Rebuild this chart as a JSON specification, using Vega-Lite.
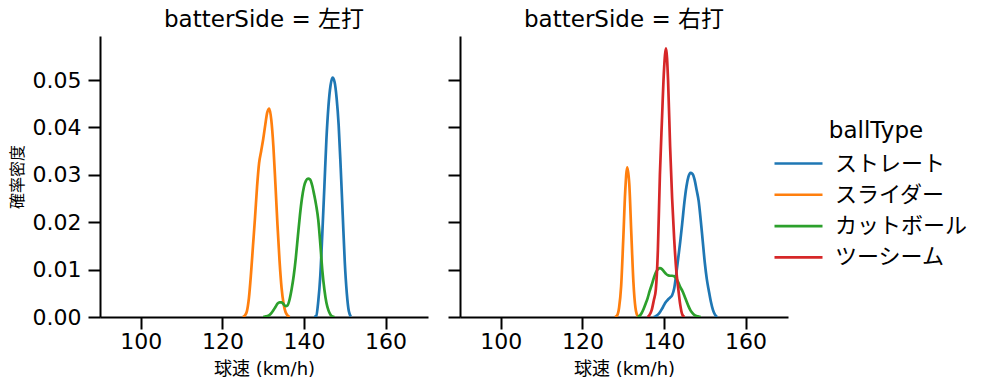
{
  "$schema": "https://vega.github.io/schema/vega-lite/v6.json",
  "padding": {"left": 9, "top": 9, "right": 0, "bottom": 0},
  "datasets": {
    "kde": [
      {"batterSide": "左打", "ballType": "ストレート", "speed": 142.5, "density": 0},
      {"batterSide": "左打", "ballType": "ストレート", "speed": 143.0, "density": 0.0002},
      {"batterSide": "左打", "ballType": "ストレート", "speed": 143.5, "density": 0.0033},
      {"batterSide": "左打", "ballType": "ストレート", "speed": 144.0, "density": 0.0087},
      {"batterSide": "左打", "ballType": "ストレート", "speed": 144.5, "density": 0.0177},
      {"batterSide": "左打", "ballType": "ストレート", "speed": 145.0, "density": 0.0275},
      {"batterSide": "左打", "ballType": "ストレート", "speed": 145.5, "density": 0.0375},
      {"batterSide": "左打", "ballType": "ストレート", "speed": 146.0, "density": 0.0445},
      {"batterSide": "左打", "ballType": "ストレート", "speed": 146.5, "density": 0.0488},
      {"batterSide": "左打", "ballType": "ストレート", "speed": 147.0, "density": 0.0505},
      {"batterSide": "左打", "ballType": "ストレート", "speed": 147.5, "density": 0.0496},
      {"batterSide": "左打", "ballType": "ストレート", "speed": 148.0, "density": 0.0462},
      {"batterSide": "左打", "ballType": "ストレート", "speed": 148.5, "density": 0.0405},
      {"batterSide": "左打", "ballType": "ストレート", "speed": 149.0, "density": 0.0315},
      {"batterSide": "左打", "ballType": "ストレート", "speed": 149.5, "density": 0.0215},
      {"batterSide": "左打", "ballType": "ストレート", "speed": 150.0, "density": 0.0116},
      {"batterSide": "左打", "ballType": "ストレート", "speed": 150.5, "density": 0.005},
      {"batterSide": "左打", "ballType": "ストレート", "speed": 151.0, "density": 0.0012},
      {"batterSide": "左打", "ballType": "ストレート", "speed": 151.5, "density": 0.0001},

      {"batterSide": "左打", "ballType": "スライダー", "speed": 125.0, "density": 0},
      {"batterSide": "左打", "ballType": "スライダー", "speed": 125.5, "density": 0.0003},
      {"batterSide": "左打", "ballType": "スライダー", "speed": 126.0, "density": 0.0012},
      {"batterSide": "左打", "ballType": "スライダー", "speed": 126.5, "density": 0.004},
      {"batterSide": "左打", "ballType": "スライダー", "speed": 127.0, "density": 0.009},
      {"batterSide": "左打", "ballType": "スライダー", "speed": 127.5, "density": 0.015},
      {"batterSide": "左打", "ballType": "スライダー", "speed": 128.0, "density": 0.021},
      {"batterSide": "左打", "ballType": "スライダー", "speed": 128.5, "density": 0.0275},
      {"batterSide": "左打", "ballType": "スライダー", "speed": 129.0, "density": 0.0325},
      {"batterSide": "左打", "ballType": "スライダー", "speed": 129.5, "density": 0.035},
      {"batterSide": "左打", "ballType": "スライダー", "speed": 130.0, "density": 0.0375},
      {"batterSide": "左打", "ballType": "スライダー", "speed": 130.5, "density": 0.0405},
      {"batterSide": "左打", "ballType": "スライダー", "speed": 131.0, "density": 0.0432},
      {"batterSide": "左打", "ballType": "スライダー", "speed": 131.5, "density": 0.044},
      {"batterSide": "左打", "ballType": "スライダー", "speed": 132.0, "density": 0.0415},
      {"batterSide": "左打", "ballType": "スライダー", "speed": 132.5, "density": 0.036},
      {"batterSide": "左打", "ballType": "スライダー", "speed": 133.0, "density": 0.028},
      {"batterSide": "左打", "ballType": "スライダー", "speed": 133.5, "density": 0.0195},
      {"batterSide": "左打", "ballType": "スライダー", "speed": 134.0, "density": 0.012},
      {"batterSide": "左打", "ballType": "スライダー", "speed": 134.5, "density": 0.0062},
      {"batterSide": "左打", "ballType": "スライダー", "speed": 135.0, "density": 0.0028},
      {"batterSide": "左打", "ballType": "スライダー", "speed": 135.5, "density": 0.001},
      {"batterSide": "左打", "ballType": "スライダー", "speed": 136.0, "density": 0.0003},
      {"batterSide": "左打", "ballType": "スライダー", "speed": 136.5, "density": 0},

      {"batterSide": "左打", "ballType": "カットボール", "speed": 130.0, "density": 0},
      {"batterSide": "左打", "ballType": "カットボール", "speed": 130.5, "density": 0.0001},
      {"batterSide": "左打", "ballType": "カットボール", "speed": 131.0, "density": 0.0002},
      {"batterSide": "左打", "ballType": "カットボール", "speed": 131.5, "density": 0.0004},
      {"batterSide": "左打", "ballType": "カットボール", "speed": 132.0, "density": 0.0008},
      {"batterSide": "左打", "ballType": "カットボール", "speed": 132.5, "density": 0.0014},
      {"batterSide": "左打", "ballType": "カットボール", "speed": 133.0, "density": 0.0021},
      {"batterSide": "左打", "ballType": "カットボール", "speed": 133.5, "density": 0.0028},
      {"batterSide": "左打", "ballType": "カットボール", "speed": 134.0, "density": 0.0031},
      {"batterSide": "左打", "ballType": "カットボール", "speed": 134.5, "density": 0.0031},
      {"batterSide": "左打", "ballType": "カットボール", "speed": 135.0, "density": 0.0027},
      {"batterSide": "左打", "ballType": "カットボール", "speed": 135.5, "density": 0.0023},
      {"batterSide": "左打", "ballType": "カットボール", "speed": 136.0, "density": 0.0025},
      {"batterSide": "左打", "ballType": "カットボール", "speed": 136.5, "density": 0.0038},
      {"batterSide": "左打", "ballType": "カットボール", "speed": 137.0, "density": 0.006},
      {"batterSide": "左打", "ballType": "カットボール", "speed": 137.5, "density": 0.0088},
      {"batterSide": "左打", "ballType": "カットボール", "speed": 138.0, "density": 0.0125},
      {"batterSide": "左打", "ballType": "カットボール", "speed": 138.5, "density": 0.017},
      {"batterSide": "左打", "ballType": "カットボール", "speed": 139.0, "density": 0.0214},
      {"batterSide": "左打", "ballType": "カットボール", "speed": 139.5, "density": 0.025},
      {"batterSide": "左打", "ballType": "カットボール", "speed": 140.0, "density": 0.0275},
      {"batterSide": "左打", "ballType": "カットボール", "speed": 140.5, "density": 0.0288},
      {"batterSide": "左打", "ballType": "カットボール", "speed": 141.0, "density": 0.0292},
      {"batterSide": "左打", "ballType": "カットボール", "speed": 141.5, "density": 0.029},
      {"batterSide": "左打", "ballType": "カットボール", "speed": 142.0, "density": 0.0278},
      {"batterSide": "左打", "ballType": "カットボール", "speed": 142.5, "density": 0.0258},
      {"batterSide": "左打", "ballType": "カットボール", "speed": 143.0, "density": 0.0235},
      {"batterSide": "左打", "ballType": "カットボール", "speed": 143.5, "density": 0.0205},
      {"batterSide": "左打", "ballType": "カットボール", "speed": 144.0, "density": 0.0155},
      {"batterSide": "左打", "ballType": "カットボール", "speed": 144.5, "density": 0.0098},
      {"batterSide": "左打", "ballType": "カットボール", "speed": 145.0, "density": 0.0058},
      {"batterSide": "左打", "ballType": "カットボール", "speed": 145.5, "density": 0.003},
      {"batterSide": "左打", "ballType": "カットボール", "speed": 146.0, "density": 0.0014},
      {"batterSide": "左打", "ballType": "カットボール", "speed": 146.5, "density": 0.0005},
      {"batterSide": "左打", "ballType": "カットボール", "speed": 147.0, "density": 0.0001},
      {"batterSide": "左打", "ballType": "カットボール", "speed": 147.5, "density": 0},

      {"batterSide": "右打", "ballType": "ストレート", "speed": 137.5, "density": 0},
      {"batterSide": "右打", "ballType": "ストレート", "speed": 138.0, "density": 0.0002},
      {"batterSide": "右打", "ballType": "ストレート", "speed": 138.5, "density": 0.0005},
      {"batterSide": "右打", "ballType": "ストレート", "speed": 139.0, "density": 0.001},
      {"batterSide": "右打", "ballType": "ストレート", "speed": 139.5, "density": 0.0017},
      {"batterSide": "右打", "ballType": "ストレート", "speed": 140.0, "density": 0.0025},
      {"batterSide": "右打", "ballType": "ストレート", "speed": 140.5, "density": 0.0032},
      {"batterSide": "右打", "ballType": "ストレート", "speed": 141.0, "density": 0.0037},
      {"batterSide": "右打", "ballType": "ストレート", "speed": 141.5, "density": 0.0041},
      {"batterSide": "右打", "ballType": "ストレート", "speed": 142.0, "density": 0.0046},
      {"batterSide": "右打", "ballType": "ストレート", "speed": 142.5, "density": 0.006},
      {"batterSide": "右打", "ballType": "ストレート", "speed": 143.0, "density": 0.009},
      {"batterSide": "右打", "ballType": "ストレート", "speed": 143.5, "density": 0.0125},
      {"batterSide": "右打", "ballType": "ストレート", "speed": 144.0, "density": 0.016},
      {"batterSide": "右打", "ballType": "ストレート", "speed": 144.5, "density": 0.02},
      {"batterSide": "右打", "ballType": "ストレート", "speed": 145.0, "density": 0.0242},
      {"batterSide": "右打", "ballType": "ストレート", "speed": 145.5, "density": 0.0275},
      {"batterSide": "右打", "ballType": "ストレート", "speed": 146.0, "density": 0.0296},
      {"batterSide": "右打", "ballType": "ストレート", "speed": 146.5, "density": 0.0304},
      {"batterSide": "右打", "ballType": "ストレート", "speed": 147.0, "density": 0.0302},
      {"batterSide": "右打", "ballType": "ストレート", "speed": 147.5, "density": 0.029},
      {"batterSide": "右打", "ballType": "ストレート", "speed": 148.0, "density": 0.0268},
      {"batterSide": "右打", "ballType": "ストレート", "speed": 148.5, "density": 0.0245},
      {"batterSide": "右打", "ballType": "ストレート", "speed": 149.0, "density": 0.0205},
      {"batterSide": "右打", "ballType": "ストレート", "speed": 149.5, "density": 0.016},
      {"batterSide": "右打", "ballType": "ストレート", "speed": 150.0, "density": 0.0115},
      {"batterSide": "右打", "ballType": "ストレート", "speed": 150.5, "density": 0.008},
      {"batterSide": "右打", "ballType": "ストレート", "speed": 151.0, "density": 0.0055},
      {"batterSide": "右打", "ballType": "ストレート", "speed": 151.5, "density": 0.0032},
      {"batterSide": "右打", "ballType": "ストレート", "speed": 152.0, "density": 0.0015},
      {"batterSide": "右打", "ballType": "ストレート", "speed": 152.5, "density": 0.0005},
      {"batterSide": "右打", "ballType": "ストレート", "speed": 153.0, "density": 0},

      {"batterSide": "右打", "ballType": "スライダー", "speed": 128.0, "density": 0},
      {"batterSide": "右打", "ballType": "スライダー", "speed": 128.5, "density": 0.0003},
      {"batterSide": "右打", "ballType": "スライダー", "speed": 129.0, "density": 0.002},
      {"batterSide": "右打", "ballType": "スライダー", "speed": 129.5, "density": 0.0065},
      {"batterSide": "右打", "ballType": "スライダー", "speed": 130.0, "density": 0.016},
      {"batterSide": "右打", "ballType": "スライダー", "speed": 130.5, "density": 0.0265},
      {"batterSide": "右打", "ballType": "スライダー", "speed": 131.0, "density": 0.0316},
      {"batterSide": "右打", "ballType": "スライダー", "speed": 131.5, "density": 0.028},
      {"batterSide": "右打", "ballType": "スライダー", "speed": 132.0, "density": 0.0175},
      {"batterSide": "右打", "ballType": "スライダー", "speed": 132.5, "density": 0.0075},
      {"batterSide": "右打", "ballType": "スライダー", "speed": 133.0, "density": 0.002},
      {"batterSide": "右打", "ballType": "スライダー", "speed": 133.5, "density": 0.0003},
      {"batterSide": "右打", "ballType": "スライダー", "speed": 134.0, "density": 0},

      {"batterSide": "右打", "ballType": "カットボール", "speed": 133.5, "density": 0},
      {"batterSide": "右打", "ballType": "カットボール", "speed": 134.0, "density": 0.0002},
      {"batterSide": "右打", "ballType": "カットボール", "speed": 134.5, "density": 0.0008},
      {"batterSide": "右打", "ballType": "カットボール", "speed": 135.0, "density": 0.0017},
      {"batterSide": "右打", "ballType": "カットボール", "speed": 135.5, "density": 0.0028},
      {"batterSide": "右打", "ballType": "カットボール", "speed": 136.0, "density": 0.004},
      {"batterSide": "右打", "ballType": "カットボール", "speed": 136.5, "density": 0.0055},
      {"batterSide": "右打", "ballType": "カットボール", "speed": 137.0, "density": 0.0068},
      {"batterSide": "右打", "ballType": "カットボール", "speed": 137.5, "density": 0.0082},
      {"batterSide": "右打", "ballType": "カットボール", "speed": 138.0, "density": 0.0094},
      {"batterSide": "右打", "ballType": "カットボール", "speed": 138.5, "density": 0.0101},
      {"batterSide": "右打", "ballType": "カットボール", "speed": 139.0, "density": 0.0103},
      {"batterSide": "右打", "ballType": "カットボール", "speed": 139.5, "density": 0.0101},
      {"batterSide": "右打", "ballType": "カットボール", "speed": 140.0, "density": 0.0096},
      {"batterSide": "右打", "ballType": "カットボール", "speed": 140.5, "density": 0.0091},
      {"batterSide": "右打", "ballType": "カットボール", "speed": 141.0, "density": 0.0088},
      {"batterSide": "右打", "ballType": "カットボール", "speed": 141.5, "density": 0.0087},
      {"batterSide": "右打", "ballType": "カットボール", "speed": 142.0, "density": 0.0087},
      {"batterSide": "右打", "ballType": "カットボール", "speed": 142.5, "density": 0.0086},
      {"batterSide": "右打", "ballType": "カットボール", "speed": 143.0, "density": 0.0081},
      {"batterSide": "右打", "ballType": "カットボール", "speed": 143.5, "density": 0.0073},
      {"batterSide": "右打", "ballType": "カットボール", "speed": 144.0, "density": 0.0063},
      {"batterSide": "右打", "ballType": "カットボール", "speed": 144.5, "density": 0.0055},
      {"batterSide": "右打", "ballType": "カットボール", "speed": 145.0, "density": 0.0045},
      {"batterSide": "右打", "ballType": "カットボール", "speed": 145.5, "density": 0.0034},
      {"batterSide": "右打", "ballType": "カットボール", "speed": 146.0, "density": 0.0023},
      {"batterSide": "右打", "ballType": "カットボール", "speed": 146.5, "density": 0.0014},
      {"batterSide": "右打", "ballType": "カットボール", "speed": 147.0, "density": 0.0008},
      {"batterSide": "右打", "ballType": "カットボール", "speed": 147.5, "density": 0.0004},
      {"batterSide": "右打", "ballType": "カットボール", "speed": 148.0, "density": 0.0002},
      {"batterSide": "右打", "ballType": "カットボール", "speed": 148.5, "density": 0.0001},
      {"batterSide": "右打", "ballType": "カットボール", "speed": 149.0, "density": 0},

      {"batterSide": "右打", "ballType": "ツーシーム", "speed": 136.0, "density": 0},
      {"batterSide": "右打", "ballType": "ツーシーム", "speed": 136.5, "density": 0.0005},
      {"batterSide": "右打", "ballType": "ツーシーム", "speed": 137.0, "density": 0.0015},
      {"batterSide": "右打", "ballType": "ツーシーム", "speed": 137.5, "density": 0.0035},
      {"batterSide": "右打", "ballType": "ツーシーム", "speed": 138.0, "density": 0.0058},
      {"batterSide": "右打", "ballType": "ツーシーム", "speed": 138.5, "density": 0.014},
      {"batterSide": "右打", "ballType": "ツーシーム", "speed": 139.0, "density": 0.03},
      {"batterSide": "右打", "ballType": "ツーシーム", "speed": 139.5, "density": 0.0415},
      {"batterSide": "右打", "ballType": "ツーシーム", "speed": 140.0, "density": 0.052},
      {"batterSide": "右打", "ballType": "ツーシーム", "speed": 140.5, "density": 0.0567},
      {"batterSide": "右打", "ballType": "ツーシーム", "speed": 141.0, "density": 0.05},
      {"batterSide": "右打", "ballType": "ツーシーム", "speed": 141.5, "density": 0.036},
      {"batterSide": "右打", "ballType": "ツーシーム", "speed": 142.0, "density": 0.025},
      {"batterSide": "右打", "ballType": "ツーシーム", "speed": 142.5, "density": 0.0165},
      {"batterSide": "右打", "ballType": "ツーシーム", "speed": 143.0, "density": 0.01},
      {"batterSide": "右打", "ballType": "ツーシーム", "speed": 143.5, "density": 0.006},
      {"batterSide": "右打", "ballType": "ツーシーム", "speed": 144.0, "density": 0.0025},
      {"batterSide": "右打", "ballType": "ツーシーム", "speed": 144.5, "density": 0.0005},
      {"batterSide": "右打", "ballType": "ツーシーム", "speed": 145.0, "density": 0}
    ]
  },
  "config": {
    "font": "DejaVu Sans, Noto Sans CJK JP",
    "view": {"stroke": null},
    "axis": {
      "domainColor": "black", "domainWidth": 2, "tickColor": "black", "tickWidth": 2, "tickSize": 12,
      "labelFont": "DejaVu Sans, Noto Sans CJK JP", "titleFont": "DejaVu Sans, Noto Sans CJK JP",
      "labelFontSize": 22, "labelColor": "black", "labelPadding": 7, "grid": false,
      "titleFontSize": 18, "titleFontWeight": "normal", "titleColor": "black"
    },
    "title": {"font": "DejaVu Sans, Noto Sans CJK JP", "fontSize": 23, "fontWeight": "normal", "color": "black", "anchor": "middle", "offset": 4},
    "legend": {
      "orient": "none", "legendX": 685, "legendY": 84,
      "symbolType": "M-2,0H2", "symbolSize": 576, "symbolStrokeWidth": 2.6,
      "labelFont": "DejaVu Sans, Noto Sans CJK JP", "titleFont": "DejaVu Sans, Noto Sans CJK JP",
      "labelFontSize": 22, "labelColor": "black", "labelOffset": 23,
      "titleFontSize": 23, "titleFontWeight": "normal", "titleColor": "black",
      "titleAnchor": "middle", "titlePadding": 7, "rowPadding": 6.3
    }
  },
  "bounds": "flush",
  "spacing": 32,
  "hconcat": [
    {
      "data": {"name": "kde"},
      "transform": [{"filter": "datum.batterSide === '左打'"}],
      "title": "batterSide = 左打",
      "width": 328, "height": 281,
      "mark": {"type": "line", "strokeWidth": 2.7, "interpolate": "monotone", "clip": true},
      "encoding": {
        "x": {"field": "speed", "type": "quantitative", "title": "球速 (km/h)",
              "scale": {"domain": [90, 170.4], "nice": false, "zero": false},
              "axis": {"values": [100, 120, 140, 160], "labelPadding": 2, "titlePadding": 8}},
        "y": {"field": "density", "type": "quantitative", "title": "確率密度",
              "scale": {"domain": [0, 0.0593], "nice": false},
              "axis": {"values": [0, 0.01, 0.02, 0.03, 0.04, 0.05], "format": ".2f", "titleFontSize": 16, "titlePadding": 7}},
        "color": {"field": "ballType", "type": "nominal", "title": "ballType",
                  "scale": {"domain": ["ストレート", "スライダー", "カットボール", "ツーシーム"],
                            "range": ["#1f77b4", "#ff7f0e", "#2ca02c", "#d62728"]}}
      }
    },
    {
      "data": {"name": "kde"},
      "transform": [{"filter": "datum.batterSide === '右打'"}],
      "title": "batterSide = 右打",
      "width": 328, "height": 281,
      "mark": {"type": "line", "strokeWidth": 2.7, "interpolate": "monotone", "clip": true},
      "encoding": {
        "x": {"field": "speed", "type": "quantitative", "title": "球速 (km/h)",
              "scale": {"domain": [90, 170.4], "nice": false, "zero": false},
              "axis": {"values": [100, 120, 140, 160], "labelPadding": 2, "titlePadding": 8}},
        "y": {"field": "density", "type": "quantitative", "title": null,
              "scale": {"domain": [0, 0.0593], "nice": false},
              "axis": {"values": [0, 0.01, 0.02, 0.03, 0.04, 0.05], "labels": false}},
        "color": {"field": "ballType", "type": "nominal", "title": "ballType",
                  "scale": {"domain": ["ストレート", "スライダー", "カットボール", "ツーシーム"],
                            "range": ["#1f77b4", "#ff7f0e", "#2ca02c", "#d62728"]}}
      }
    }
  ]
}
